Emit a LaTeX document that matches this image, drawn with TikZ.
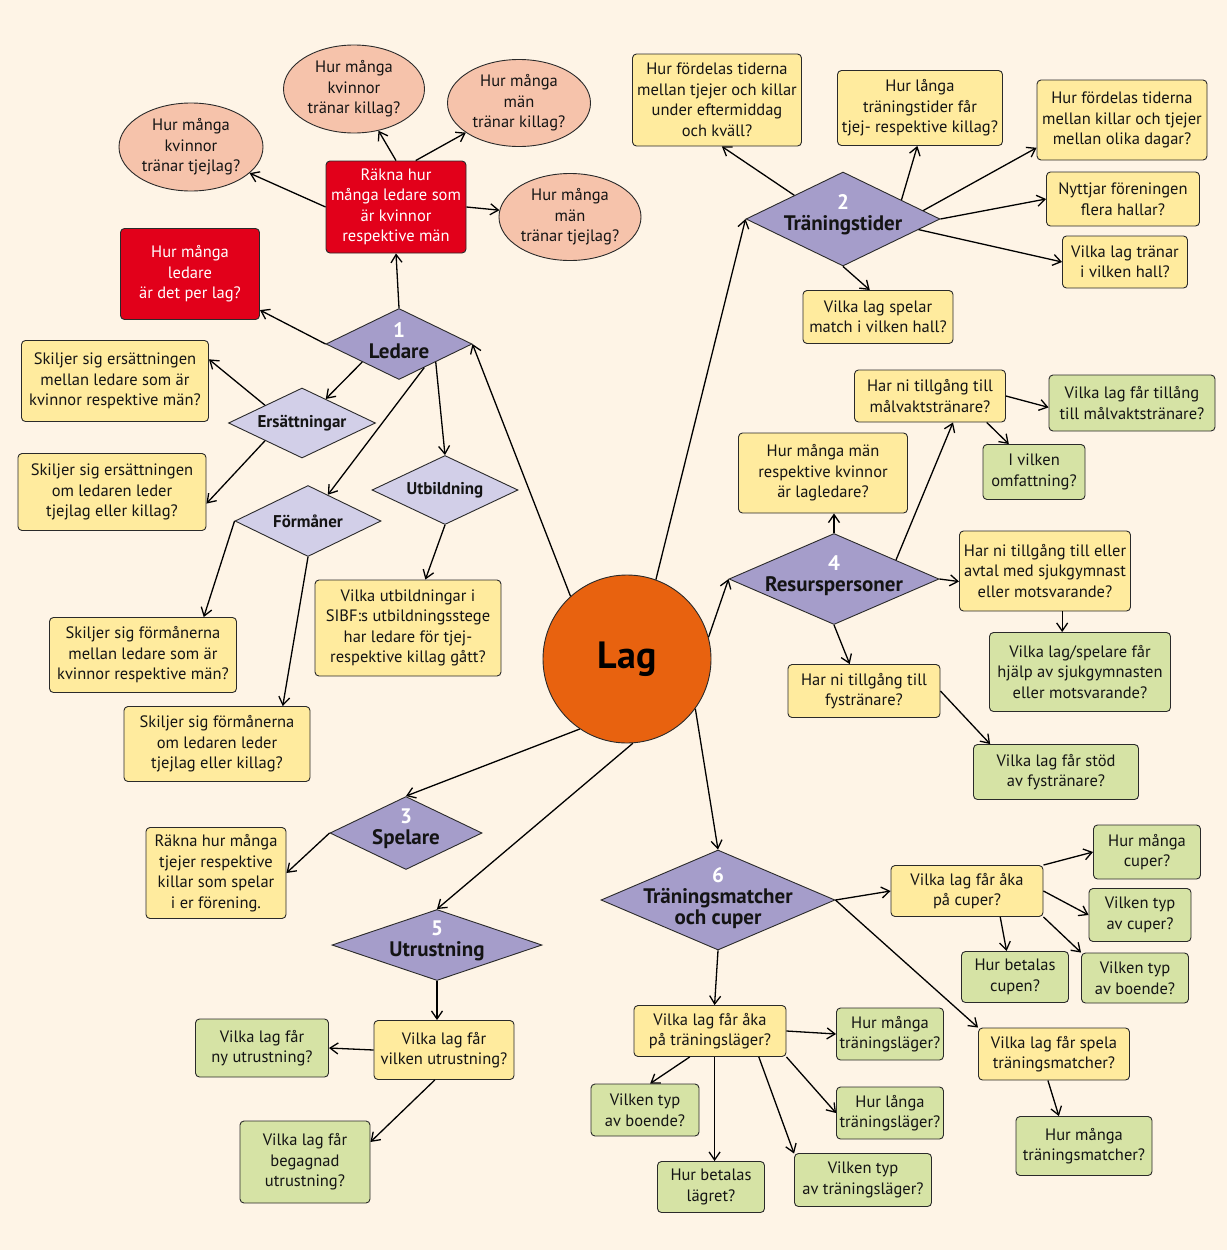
\documentclass[tikz,border=0pt]{standalone}
\usepackage{fontspec}
\setmainfont{PT Sans}
\usetikzlibrary{shapes.geometric,arrows.meta}
\definecolor{cream}{HTML}{FEF4E6}
\definecolor{ycol}{HTML}{FFEB9E}
\definecolor{gcol}{HTML}{D6E3A5}
\definecolor{rcol}{HTML}{E2001A}
\definecolor{scol}{HTML}{F6C3AB}
\definecolor{pdark}{HTML}{A59DCA}
\definecolor{plight}{HTML}{D2CFE8}
\definecolor{ocol}{HTML}{E8620F}
\definecolor{bordc}{HTML}{2A2A2A}
\definecolor{txt}{HTML}{141414}
\newcommand\bxfont{\fontsize{16.5}{20.5}\selectfont}
\newcommand\dbigfont{\fontsize{21}{21}\selectfont\bfseries}
\newcommand\dsmallfont{\fontsize{17}{20}\selectfont\bfseries}
\newcommand\numw[1]{\textcolor{white}{#1}}
\tikzset{
  sz/.style 2 args={minimum width=#1pt, minimum height=#2pt},
  box/.style={draw=bordc, line width=0.9pt, rounded corners=4pt, align=center, inner sep=0pt, font=\bxfont, text=txt},
  ybox/.style={box, fill=ycol},
  gbox/.style={box, fill=gcol},
  rbox/.style={box, fill=rcol, text=white},
  oval/.style={ellipse, draw=bordc, line width=0.9pt, fill=scol, inner sep=0pt},
  ovaltext/.style={align=center, font=\bxfont, text=txt, inner sep=0pt},
  bigdia/.style={diamond, draw=bordc, line width=0.9pt, fill=pdark, inner sep=0pt},
  smalldia/.style={diamond, draw=bordc, line width=0.9pt, fill=plight, inner sep=0pt},
  dtext/.style={align=center, font=\dbigfont, text=txt, inner sep=0pt},
  stext/.style={align=center, font=\dsmallfont, text=txt, inner sep=0pt},
  arr/.style={-{Straight Barb[length=8pt,width=11pt]}, line width=1.3pt, draw=black},
}
\begin{document}
\begin{tikzpicture}[x=1pt,y=-1pt]
\fill[cream] (0,0) rectangle (1227,1250);
\useasboundingbox (0,0) rectangle (1227,1250);

% centre
\node[circle, draw=bordc, line width=0.9pt, fill=ocol, minimum size=168pt, inner sep=0pt, font=\fontsize{38}{38}\selectfont\bfseries, text=black] (Lag) at (627,659) {Lag};

% ---------- 1 Ledare ----------
\node[bigdia, sz={146}{71}] (D1) at (399,344) {};
\node[dtext] (D1t) at (399,341) {\numw{1}\\Ledare};
\node[rbox, sz={140}{92}] (R1) at (396,207) {Räkna hur\\många ledare som\\är kvinnor\\respektive män};
\node[rbox, sz={139}{91}] (R2) at (190,274) {Hur många\\ledare\\är det per lag?};
\node[oval, sz={144}{88}] (E1) at (191,147) {};
\node[ovaltext] (E1t) at (E1) {Hur många\\kvinnor\\tränar tjejlag?};
\node[oval, sz={141}{88}] (E2) at (354,89) {};
\node[ovaltext] (E2t) at (E2) {Hur många\\kvinnor\\tränar killag?};
\node[oval, sz={143}{87}] (E3) at (519,103) {};
\node[ovaltext] (E3t) at (E3) {Hur många\\män\\tränar killag?};
\node[oval, sz={142}{87}] (E4) at (570,217) {};
\node[ovaltext] (E4t) at (E4) {Hur många\\män\\tränar tjejlag?};

\node[smalldia, sz={147}{70}] (Ers) at (302,423) {};
\node[stext] (Erst) at (Ers) {Ersättningar};
\node[ybox, sz={187}{81}] (S1) at (115,381) {Skiljer sig ersättningen\\mellan ledare som är\\kvinnor respektive män?};
\node[ybox, sz={188}{77}] (S2) at (112,492) {Skiljer sig ersättningen\\om ledaren leder\\tjejlag eller killag?};
\node[smalldia, sz={146}{69}] (Utb) at (445,490) {};
\node[stext] (Utbt) at (Utb) {Utbildning};
\node[ybox, sz={186}{96}] (Ub) at (408,628) {Vilka utbildningar i\\SIBF:s utbildningsstege\\har ledare för tjej-\\respektive killag gått?};
\node[smalldia, sz={146}{71}] (Form) at (308,521) {};
\node[stext] (Formt) at (Form) {Förmåner};
\node[ybox, sz={187}{75}] (F1) at (143,655) {Skiljer sig förmånerna\\mellan ledare som är\\kvinnor respektive män?};
\node[ybox, sz={186}{75}] (F2) at (217,744) {Skiljer sig förmånerna\\om ledaren leder\\tjejlag eller killag?};

% ---------- 2 Träningstider ----------
\node[bigdia, sz={194}{94}] (D2) at (843,219) {};
\node[dtext] (D2t) at (843,215) {\numw{2}\\Träningstider};
\node[ybox, sz={169}{92}] (T1) at (717,100) {Hur fördelas tiderna\\mellan tjejer och killar\\under eftermiddag\\och kväll?};
\node[ybox, sz={165}{75}] (T2) at (920,108) {Hur långa\\träningstider får\\tjej- respektive killag?};
\node[ybox, sz={170}{80}] (T3) at (1122,120) {Hur fördelas tiderna\\mellan killar och tjejer\\mellan olika dagar?};
\node[ybox, sz={153}{54}] (T4) at (1123,199) {Nyttjar föreningen\\flera hallar?};
\node[ybox, sz={125}{52}] (T5) at (1125,262) {Vilka lag tränar\\i vilken hall?};
\node[ybox, sz={150}{53}] (T6) at (878,317) {Vilka lag spelar\\match i vilken hall?};

% ---------- 4 Resurspersoner ----------
\node[bigdia, sz={210}{91}] (D4) at (834,579) {};
\node[dtext] (D4t) at (834,576) {\numw{4}\\Resurspersoner};
\node[ybox, sz={169}{80}] (Q1) at (823,473) {Hur många män\\respektive kvinnor\\är lagledare?};
\node[ybox, sz={151}{52}] (Q2) at (930,396) {Har ni tillgång till\\målvaktstränare?};
\node[gbox, sz={166}{56}] (Q3) at (1132,403) {Vilka lag får tillång\\till målvaktstränare?};
\node[gbox, sz={102}{55}] (Q4) at (1034,472) {I vilken\\omfattning?};
\node[ybox, sz={171}{80}] (Q5) at (1045,571) {Har ni tillgång till eller\\avtal med sjukgymnast\\eller motsvarande?};
\node[gbox, sz={181}{79}] (Q6) at (1080,672) {Vilka lag/spelare får\\hjälp av sjukgymnasten\\eller motsvarande?};
\node[ybox, sz={152}{53}] (Q7) at (864,691) {Har ni tillgång till\\fystränare?};
\node[gbox, sz={165}{55}] (Q8) at (1056,772) {Vilka lag får stöd\\av fystränare?};

% ---------- 3 Spelare ----------
\node[bigdia, sz={152}{73}] (D3) at (406,833) {};
\node[dtext] (D3t) at (406,829) {\numw{3}\\Spelare};
\node[ybox, sz={140}{91}] (P1) at (216,873) {Räkna hur många\\tjejer respektive\\killar som spelar\\i er förening.};

% ---------- 5 Utrustning ----------
\node[bigdia, sz={210}{71}] (D5) at (437,945) {};
\node[dtext] (D5t) at (437,941) {\numw{5}\\Utrustning};
\node[ybox, sz={140}{59}] (U1) at (444,1050) {Vilka lag får\\vilken utrustning?};
\node[gbox, sz={133}{58}] (U2) at (262,1048) {Vilka lag får\\ny utrustning?};
\node[gbox, sz={130}{82}] (U3) at (305,1162) {Vilka lag får\\begagnad\\utrustning?};

% ---------- 6 Träningsmatcher ----------
\node[bigdia, sz={234}{100}] (D6) at (718,900) {};
\node[dtext] (D6t) at (718,898) {\numw{6}\\Träningsmatcher\\och cuper};
\node[ybox, sz={152}{51}] (C1) at (967,891) {Vilka lag får åka\\på cuper?};
\node[gbox, sz={107}{54}] (C2) at (1147,852) {Hur många\\cuper?};
\node[gbox, sz={102}{53}] (C3) at (1140,915) {Vilken typ\\av cuper?};
\node[gbox, sz={107}{51}] (C4) at (1015,977) {Hur betalas\\cupen?};
\node[gbox, sz={107}{50}] (C5) at (1135,978) {Vilken typ\\av boende?};
\node[ybox, sz={151}{52}] (C6) at (1054,1054) {Vilka lag får spela\\träningsmatcher?};
\node[gbox, sz={136}{59}] (C7) at (1084,1146) {Hur många\\träningsmatcher?};
\node[ybox, sz={152}{51}] (L1) at (710,1031) {Vilka lag får åka\\på träningsläger?};
\node[gbox, sz={107}{52}] (L2) at (890,1034) {Hur många\\träningsläger?};
\node[gbox, sz={107}{52}] (L3) at (890,1113) {Hur långa\\träningsläger?};
\node[gbox, sz={108}{52}] (L4) at (645,1110) {Vilken typ\\av boende?};
\node[gbox, sz={107}{51}] (L5) at (711,1187) {Hur betalas\\lägret?};
\node[gbox, sz={137}{53}] (L6) at (863,1180) {Vilken typ\\av träningsläger?};

% ---------- connectors ----------
\draw[arr] (R1.west) -- (E1);
\draw[arr] (R1.north) -- (E2);
\draw[arr] (R1.67) -- (E3);
\draw[arr] (R1.east) -- (E4);
\draw[arr] (D1.north) -- (R1.south);
\draw[arr] (D1.west) -- (R2);
\draw[arr] (D1.south west) -- (Ers);
\draw[arr] (Ers.north west) -- (S1.13);
\draw[arr] (Ers.south west) -- (S2.-7);
\draw[arr] (D1.south east) -- (Utb.north);
\draw[arr] (D1.-43) -- (Form);
\draw[arr] (Utb.south) -- (Ub);
\draw[arr] (Form.west) -- (F1.32);
\draw[arr] (Form.south) -- (F2.30);
\draw[arr] (Lag.132) -- (D1.east);

\draw[arr] (Lag.70) -- (D2.west);
\draw[arr] (D2.north west) -- (T1.-84);
\draw[arr] (D2.18) -- (T2.-94);
\draw[arr] (D2.6) -- (T3.198);
\draw[arr] (D2.east) -- (T4.west);
\draw[arr] (D2.-8) -- (T5.west);
\draw[arr] (D2.south) -- (T6.107);

\draw[arr] (Lag.15) -- (D4.west);
\draw[arr] (D4.north) -- (D4.north |- Q1.south);
\draw[arr] (D4.17) -- (Q2.-49);
\draw[arr] (Q2.east) -- (Q3.183);
\draw[arr] (Q2.-25) -- (Q4.132);
\draw[arr] (D4.east) -- (Q5.187);
\draw[arr] (Q5.-67) -- (Q5.-67 |- Q6.north);
\draw[arr] (D4.south) -- (Q7.118);
\draw[arr] (Q7.east) -- (Q8.157);

\draw[arr] (Lag.236) -- (D3.north);
\draw[arr] (D3.west) -- (P1.east);

\draw[arr] (Lag.-86) -- (D5.north);
\draw[arr] (D5.south) -- (D5.south |- U1.north);
\draw[arr] (U1.west) -- (U2.east);
\draw[arr] (U1.-107) -- (U3.17);

\draw[arr] (Lag.-36) -- (D6.north);
\draw[arr] (D6.east) -- (C1.west);
\draw[arr] (C1.north east) -- (C2.west);
\draw[arr] (C1.east) -- (C3.west);
\draw[arr] (C1.-38) -- (C4.108);
\draw[arr] (C1.south east) -- (C5.north west);
\draw[arr] (D6.east) -- (C6.north west);
\draw[arr] (C6.-103) -- (C7.130);
\draw[arr] (D6.south) -- (L1.80);
\draw[arr] (L1.east) -- (L2.west);
\draw[arr] (L1.south east) -- (L3.west);
\draw[arr] (L1.-128) -- (L4.79);
\draw[arr] (L1.-80) -- (L1.-80 |- L5.north);
\draw[arr] (L1.-28) -- (L6.159);
\end{tikzpicture}
\end{document}
